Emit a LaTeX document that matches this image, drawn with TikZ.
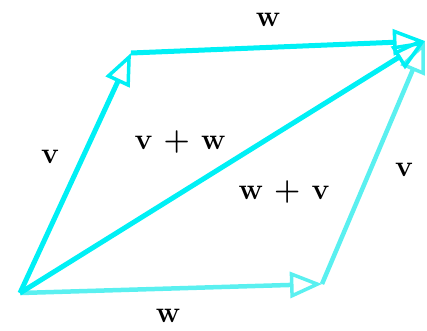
\documentclass[tikz,border=0pt]{standalone}
\usepackage{fontspec}
\usetikzlibrary{arrows.meta}
\definecolor{cyanA}{RGB}{0,240,245}
\definecolor{cyanB}{RGB}{90,240,240}
\begin{document}
\begin{tikzpicture}[x=1pt,y=-1pt,
  vec/.style={line width=5pt,draw=cyanA,-{Triangle[open,length=32pt,width=26pt,line width=3.5pt]}},
  vecl/.style={line width=4.5pt,draw=cyanB,-{Triangle[open,length=32pt,width=26pt,line width=3.5pt]}},
  lab/.style={font=\fontsize{30}{30}\selectfont\bfseries,inner sep=0pt}]
\useasboundingbox (0,0) rectangle (427,330);
\coordinate (O) at (20,293);
\coordinate (A) at (131,53);
\coordinate (B) at (322,284);
\coordinate (C) at (425,41);
\draw[vecl] (B) -- (C);
\draw[vecl] (O) -- (B);
\draw[vec] (O) -- (C);
\draw[vec] (A) -- (C);
\draw[vec] (O) -- (A);
\node[lab] (lw1) at (268,20) {w};
\node[lab] (lv1) at (50,157) {v};
\node[lab] (lvw) at (180,142) {v + w};
\node[lab] (lwv) at (284,192) {w + v};
\node[lab] (lv2) at (404,170) {v};
\node[lab] (lw2) at (168,316) {w};
\end{tikzpicture}
\end{document}
